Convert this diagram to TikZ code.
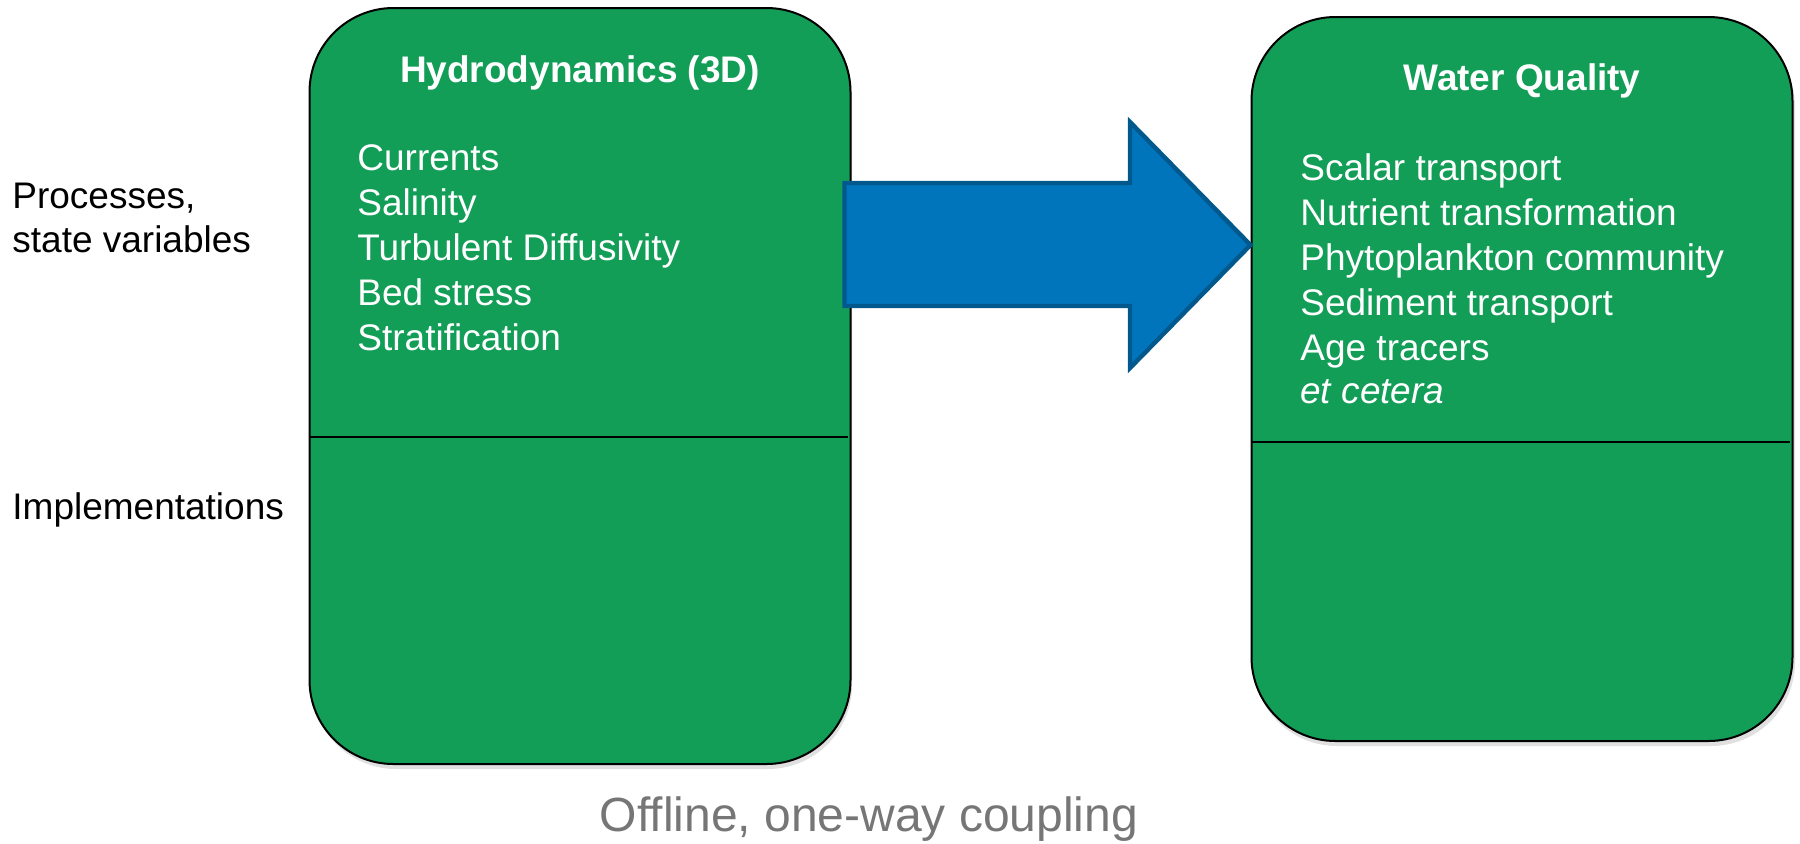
\documentclass[tikz,border=0pt]{standalone}
\usepackage{fontspec}
\setmainfont{Liberation Sans}
\usetikzlibrary{calc}
\definecolor{boxgreen}{RGB}{19,158,88}
\definecolor{arrowblue}{RGB}{1,117,188}
\definecolor{arrowedge}{RGB}{0,88,140}
\definecolor{capgray}{RGB}{118,118,118}
\begin{document}
\begin{tikzpicture}[x=0.5pt,y=-0.5pt,
  modelbox/.style={draw=black, line width=1pt, fill=boxgreen, rounded corners=42pt,
    inner sep=0pt, minimum width=270.5pt},
  boxshadow/.style={fill=black, opacity=0.12, rounded corners=42pt, draw=none},
  divider/.style={draw=black, line width=1pt},
  title/.style={text=white, font=\bfseries\fontsize{18.5}{22.5}\selectfont, inner sep=0pt, anchor=base},
  item/.style={text=white, font=\fontsize{18.5}{22.5}\selectfont, inner sep=0pt, anchor=base west},
  sidelabel/.style={text=black, font=\fontsize{18.5}{22.5}\selectfont, inner sep=0pt, anchor=base west},
  caption/.style={text=capgray, font=\fontsize{24}{28}\selectfont, inner sep=0pt, anchor=base},
  bigarrow/.style={fill=arrowblue, draw=arrowedge, line width=2.2pt, line join=miter}
]
\useasboundingbox (0,0) rectangle (1800,843);

% shadows
\fill[boxshadow] (312,14) rectangle (852,769);
\fill[boxshadow] (1253,23) rectangle (1795,746);

% boxes
\node[modelbox, minimum height=378pt] (hydro) at (580,386) {};
\node[modelbox, minimum height=362pt] (wq) at (1522,379) {};

% dividers
\draw[divider] (hydro.west |- 0,437) -- ([xshift=-2pt]hydro.east |- 0,437);
\draw[divider] (wq.west |- 0,442) -- ([xshift=-2pt]wq.east |- 0,442);

% titles
\node[title] (htitle) at (hydro.north |- 0,82) {Hydrodynamics (3D)};
\node[title] (wtitle) at (wq.north |- 0,90) {Water Quality};

% items
\foreach \t [count=\i] in {Currents,Salinity,Turbulent Diffusivity,Bed stress,Stratification}
  \node[item] (h\i) at (357,125+45*\i) {\t};
\foreach \t [count=\i] in {Scalar transport,Nutrient transformation,Phytoplankton community,Sediment transport,Age tracers}
  \node[item] (w\i) at (1300,135+45*\i) {\t};
\node[item] (w6) at (1300,403) {\itshape et cetera};

% side labels
\node[sidelabel] (proc1) at (12,208) {Processes,};
\node[sidelabel] (proc2) at (12,252) {state variables};
\node[sidelabel] (impl) at (12,519) {Implementations};

% arrow
\coordinate (astart) at ([xshift=-3.5pt]hydro.east |- 0,245);
\coordinate (atip) at (wq.west |- 0,245);
\draw[bigarrow] ($(astart)+(0,-62)$) -- (1130,183) -- (1130,122) -- (atip)
  -- (1130,368) -- (1130,306) -- ($(astart)+(0,61)$) -- cycle;

% caption
\node[caption] (cap) at (869,831) {Offline, one-way coupling};
\end{tikzpicture}
\end{document}
